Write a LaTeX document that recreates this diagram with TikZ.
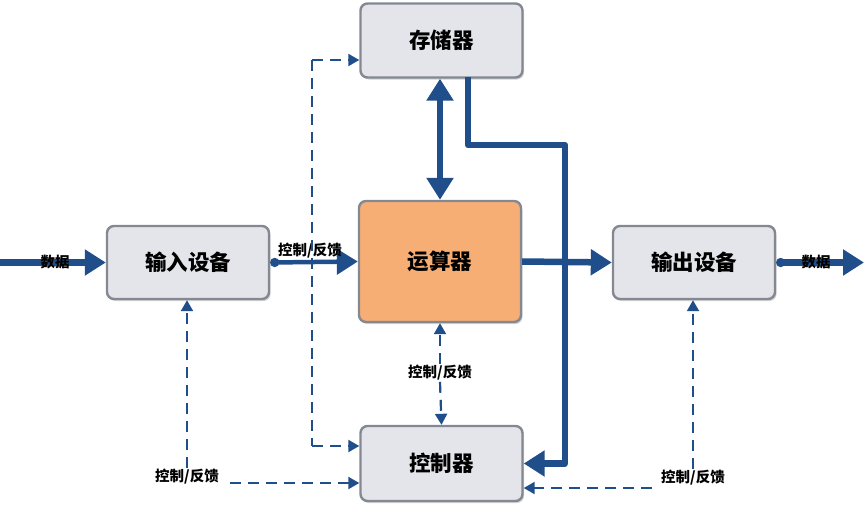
\documentclass[tikz,border=0pt]{standalone}
\usepackage{fontspec}
\setmainfont{Noto Sans CJK SC}
\usetikzlibrary{arrows.meta,shadows,calc}
\definecolor{lineblue}{HTML}{1F4E8A}
\definecolor{boxfill}{HTML}{E4E5EA}
\definecolor{boxline}{HTML}{838893}
\definecolor{alufill}{HTML}{F7AE74}
\tikzset{
  unit/.style={draw=boxline, line width=2.4pt, fill=boxfill, rounded corners=7pt,
    minimum width=162pt, inner sep=0pt, font=\fontsize{21.5}{22}\selectfont\bfseries,
    drop shadow={shadow xshift=1.5pt, shadow yshift=-2pt, opacity=0.35}},
  lbl/.style={font=\fontsize{14.5}{15}\selectfont\bfseries, inner sep=1pt},
  bus/.style={draw=lineblue, line width=6.5pt, line join=round},
  midbus/.style={draw=lineblue, line width=4.5pt},
  bigtip/.style={-{Triangle[length=21pt,width=25pt]}},
  dsh/.style={draw=lineblue, line width=2.2pt, dash pattern=on 11pt off 7pt},
  smalltip/.style={-{Triangle[length=11pt,width=12pt]}},
  dotstart/.style={{Circle[length=9pt,width=9pt]}-{Triangle[length=21pt,width=25pt]}}
}
\begin{document}
\begin{tikzpicture}[x=1pt,y=-1pt]
\useasboundingbox (0,0) rectangle (864,504);
% units
\node[unit, minimum height=74pt] (mem) at (441.5,40.5) {存储器};
\node[unit, minimum height=121pt, fill=alufill] (alu) at (440,261.5) {运算器};
\node[unit, minimum height=75pt] (ctl) at (441.5,463.5) {控制器};
\node[unit, minimum height=73pt] (inp) at (188,262.5) {输入设备};
\node[unit, minimum height=73pt] (out) at (694,262.5) {输出设备};
% data in
\coordinate (lin) at (0,262.5);
\draw[bus, line cap=round, bigtip] (lin) -- (inp.west);
\node[lbl] (din) at (55,262.5) {数据};
% input -> alu
\draw[midbus, dotstart, lineblue] (inp.east) -- (alu.west);
\node[lbl] (l1) at (310,251) {控制/反馈};
% dashed control to memory and controller
\coordinate (vt) at (312,60);
\coordinate (vb) at (312,446);
\draw[dsh] (vt) -- (vb);
\draw[dsh, smalltip, lineblue] (vt) -- (vt -| mem.west);
\draw[dsh, smalltip, lineblue] (vb) -- (vb -| ctl.west);
% memory <-> alu
\draw[bus, {Triangle[length=22pt,width=26pt]}-{Triangle[length=22pt,width=26pt]}, lineblue] (alu.north |- mem.south) -- (alu.north);
% memory -> controller bus
\coordinate (ms) at (468,77);
\coordinate (b2) at (565,145);
\draw[bus, bigtip, lineblue] (ms) |- (b2) |- (ctl.east);
% alu -> output
\draw[bus, bigtip, lineblue] (alu.east) -- (out.west);
% output -> data
\coordinate (lout) at (864,262.5);
\draw[bus, {Circle[length=9pt,width=9pt]}-{Triangle[length=21pt,width=25pt]}, lineblue] (out.east) -- (lout);
\node[lbl] (dout) at (816,262.5) {数据};
% alu <-> controller dashed
\node[lbl, fill=white] (l2) at (440,373) {控制/反馈};
\draw[dsh, smalltip, lineblue] (l2.north) -- (alu.south);
\draw[dsh, smalltip, lineblue] (l2.south) -- (ctl.north);
% input <-> controller dashed
\node[lbl] (l3) at (187,477) {控制/反馈};
\draw[dsh, smalltip, lineblue] (l3.north) -- (l3.north |- inp.south);
\coordinate (h3) at (230,483);
\draw[dsh, smalltip, lineblue] (h3) -- (h3 -| ctl.west);
% output <-> controller dashed
\node[lbl] (l4) at (693,478) {控制/反馈};
\draw[dsh, smalltip, lineblue] (l4.north) -- (l4.north |- out.south);
\coordinate (h4) at (652,488);
\draw[dsh, smalltip, lineblue] (h4) -- (h4 -| ctl.east);
\end{tikzpicture}
\end{document}
